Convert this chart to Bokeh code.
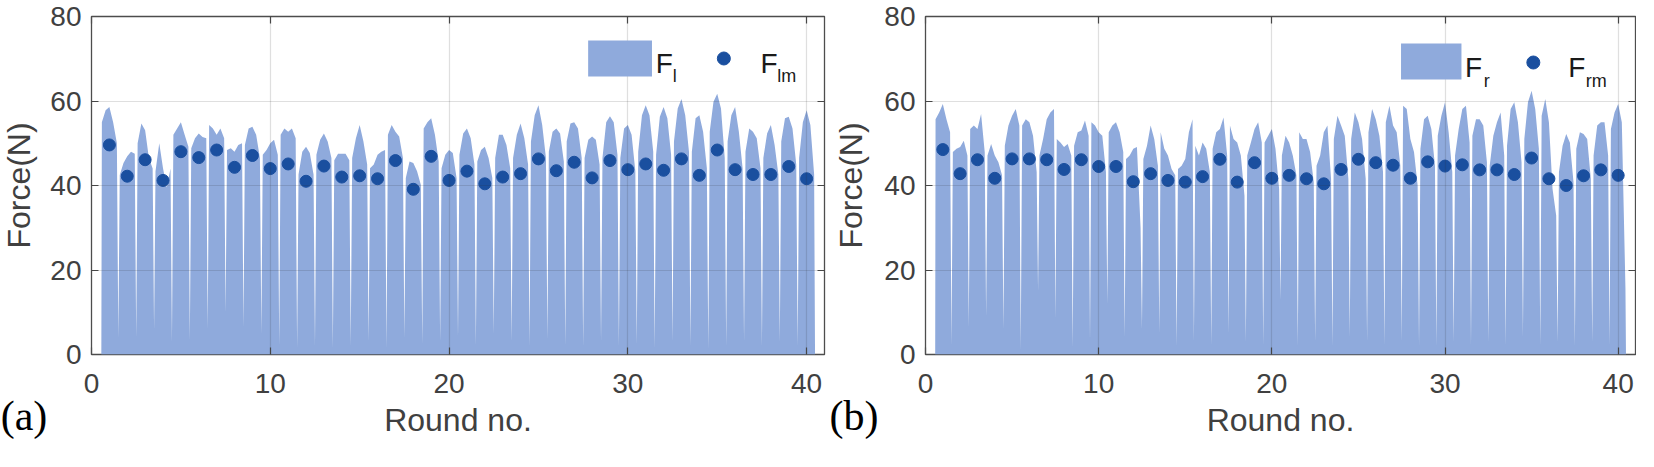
from bokeh.plotting import figure
from bokeh.models import Range1d, FixedTicker, LinearAxis, Label, BoxAnnotation
from bokeh.layouts import row
from bokeh.embed import file_html
from bokeh.resources import INLINE
import math

# ---------------- data ----------------
rounds = list(range(1, 41))
x_ticks = [0, 10, 20, 30, 40]
y_ticks = [0, 20, 40, 60, 80]

# panel (a): left foot force, per-round mean and envelope of the force trace
fl_mean = [49.6, 42.2, 46.1, 41.2, 48.0, 46.6, 48.4, 44.3, 47.1, 44.0,
           45.1, 41.0, 44.6, 42.0, 42.3, 41.6, 45.9, 39.1, 46.9, 41.2,
           43.4, 40.4, 42.0, 42.8, 46.3, 43.5, 45.5, 41.8, 45.9, 43.75,
           45.1, 43.6, 46.3, 42.4, 48.4, 43.75, 42.6, 42.6, 44.5, 41.6]
fl_left = [55, 42.5, 50, 43.4, 52, 48.8, 54.3, 48.4, 49.6, 47.3,
           52, 42.6, 47.3, 46, 46.5, 44.1, 52, 41.8, 53.5, 44.1,
           47.3, 45.7, 46.5, 46.5, 50.4, 48, 50.4, 46.5, 46.5, 46.5,
           48, 47.3, 50.4, 48, 52.7, 50.4, 48, 46.5, 50.4, 46.5]
fl_rise = [57.8, 45.3, 54.7, 50, 53.5, 51.2, 53.5, 48.8, 53.5, 48.4,
           53.5, 48, 50.8, 47.5, 51.2, 45, 54.3, 45.7, 55, 47.3,
           52.3, 48.4, 52, 52, 56.6, 52.7, 54.7, 50.8, 55, 53.5,
           56.6, 56.3, 58.2, 55.9, 59.8, 56.6, 53.5, 52.3, 55.9, 55]
fl_mid = [58.6, 46.9, 53.1, 44.1, 55, 52.3, 52, 48, 53.9, 50,
          52.7, 49.2, 52.3, 47.5, 54.3, 47.3, 52.7, 45.3, 55.9, 48.4,
          53.5, 49.2, 52, 54.7, 59, 53.5, 55, 51.6, 56.4, 54.3,
          59, 58.6, 60.5, 56.6, 61.7, 58.6, 52.7, 54.3, 56.3, 57.8]
fl_fall = [55, 48, 46.5, 39.5, 52, 51.5, 53.5, 49.6, 52, 50.8,
           53.5, 47.7, 50.4, 47.5, 50.4, 48, 51.6, 43.4, 52, 47.7,
           51.2, 46.5, 49.6, 51.2, 54.3, 52.3, 53.5, 50.8, 55, 52,
           56.6, 55.9, 56.6, 52.7, 58.2, 52.7, 51.2, 49.6, 53.5, 54.3]
fl_right = [50, 47.5, 44, 44, 49.2, 51.2, 51.2, 50, 46.5, 47.3,
            51.2, 42.6, 46.5, 46, 45, 48.4, 46.5, 40.2, 45.7, 41.8,
            45, 41.8, 44.1, 45, 46.5, 45.7, 46.5, 45, 47.3, 43.4,
            48, 47.3, 48, 44.1, 46.5, 44.1, 44.1, 42.6, 45, 42.6]
fl_gap = [4, 4, 6, 3, 3.5, 6, 10, 6.5, 5, 2, 1.5, 2, 1.5,
          2, 3, 1.5, 4, 2.5, 3, 4, 2, 5, 3, 2, 3.5, 2, 2,
          3, 2, 2.5, 1.5, 3, 2, 1.5, 2, 3, 2, 3, 2]
fl_start, fl_end = 0.55, 40.47

# panel (b): right foot force
fr_mean = [48.5, 42.8, 46.1, 41.7, 46.3, 46.3, 46.1, 43.8, 46.1, 44.5,
           44.5, 40.9, 42.8, 41.2, 40.8, 42.1, 46.2, 40.8, 45.4, 41.7,
           42.4, 41.6, 40.4, 43.8, 46.2, 45.4, 44.8, 41.7, 45.6, 44.6,
           44.9, 43.7, 43.7, 42.6, 46.5, 41.6, 40.0, 42.3, 43.7, 42.4]
fr_left = [55.7, 47.9, 53.4, 47.1, 49.4, 54.2, 47.1, 51, 49.4, 55,
           52.6, 46.3, 46.3, 52.6, 43.9, 49.4, 48.7, 54.2, 47.1, 50.2,
           47.1, 52.6, 44.7, 51, 51, 52.6, 55, 58.9, 48.7, 51.8,
           47.1, 51.8, 44.7, 49.4, 51, 56.5, 43.2, 48.7, 47.1, 53.4]
fr_rise = [57.3, 48.7, 54.2, 49.8, 54.2, 55.7, 51, 50.2, 52.6, 54.2,
           54.2, 47.1, 49.4, 48.7, 44.7, 47.1, 52.6, 51, 50.2, 51.8,
           51.8, 51, 47.1, 56.5, 57.3, 58.1, 58.9, 58.1, 55.7, 56.5,
           53.4, 55.7, 51.8, 58.1, 59.7, 60.5, 49.4, 52.6, 54.2, 57.3]
fr_mid = [59.3, 49.1, 53.4, 47.1, 56.5, 55, 55.7, 49.1, 53, 52.6,
          55, 48.7, 54.2, 47.1, 46.3, 50.2, 53.4, 50.2, 53.4, 53.4,
          50.2, 51, 52.6, 54.2, 55, 55.7, 54.2, 51, 56.5, 59.7,
          58.1, 55.7, 55, 59.7, 62.4, 55, 52.2, 52.2, 55, 59.3]
fr_fall = [55.7, 50.6, 56.9, 45.5, 58.1, 51.8, 57.3, 49.8, 55.4, 51.8,
           52.6, 49.1, 51, 43.9, 52.6, 48.7, 56.1, 47.1, 55, 48.7,
           47.1, 47.9, 54.2, 51.8, 51, 51.8, 52.6, 47.9, 53.4, 52.6,
           58.9, 54.2, 57.3, 55, 58.1, 39.2, 50.2, 51, 55, 55]
fr_right = [52.6, 47.1, 47.9, 42.4, 54.2, 43.2, 58.1, 47.1, 51.8, 43.2,
            47.9, 30, 44.7, 42.4, 55.7, 43.2, 47.1, 37.6, 50.2, 39.2,
            42.4, 40.8, 41.6, 41.6, 41.6, 43.2, 44.7, 40, 44.7, 43.2,
            50.2, 45.5, 47.1, 45.5, 48.7, 32.9, 40.8, 41.6, 47.1, 15.6]
fr_gap = [2.2, 6.5, 9, 6, 1, 15, 8.5, 1.5, 3, 12, 4, 6, 5,
          2, 3, 2, 5, 3, 2, 13, 2, 3, 2, 4, 3, 2, 3, 2,
          2, 3, 2, 3, 2, 4, 2, 3, 2, 3, 2]
fr_start, fr_end = 0.56, 40.45

# ---------------- styles / layout ----------------
AREA = "#8faadc"
DOT = "#1a4f9f"
AXC = "#4d4d4d"
TXT = "#404040"
SANS = "Liberation Sans"
SERIF = "Liberation Serif"
OFFS = [-0.42, -0.21, 0.0, 0.21, 0.42]   # envelope sample positions within a round
GAP_POS = 0.5
TOTAL_W, H = 1636, 442
TOP, BOTTOM = 16, H - 354


def envelope(start, end, parts, gaps):
    xs, ys = [start], [0.0]
    for i, k in enumerate(rounds):
        for off, arr in zip(OFFS, parts):
            xs.append(k + off)
            ys.append(arr[i])
        if i < len(gaps):
            xs.append(k + GAP_POS)
            ys.append(gaps[i])
    xs.append(end)
    ys.append(0.0)
    return xs, ys


def hidden_axis(ticks):
    return LinearAxis(ticker=FixedTicker(ticks=ticks), axis_line_color=None,
                      major_tick_in=7, major_tick_out=0, minor_tick_line_color=None,
                      major_label_text_font_size="0px", major_label_standoff=0,
                      major_label_overrides={t: "" for t in ticks},
                      major_tick_line_color=AXC, major_tick_line_width=1.2)


def make_panel(width, bl, br, start, end, parts, gaps, mean, leg):
    p = figure(width=width, height=H, x_range=Range1d(0, 41), y_range=Range1d(0, 80),
               output_backend="svg", toolbar_location=None,
               min_border_left=bl, min_border_right=br,
               min_border_top=TOP, min_border_bottom=BOTTOM,
               background_fill_color="white", border_fill_color="white")
    xs, ys = envelope(start, end, parts, gaps)
    p.varea(x=xs, y1=[0.0] * len(xs), y2=ys, fill_color=AREA, fill_alpha=1.0)
    p.scatter(x=rounds, y=mean, size=12, fill_color=DOT, line_color=DOT)

    p.xaxis.ticker = FixedTicker(ticks=x_ticks)
    p.yaxis.ticker = FixedTicker(ticks=y_ticks)
    for ax in (p.xaxis[0], p.yaxis[0]):
        ax.axis_line_color = None
        ax.major_tick_in = 7
        ax.major_tick_out = 0
        ax.minor_tick_line_color = None
        ax.major_tick_line_color = AXC
        ax.major_tick_line_width = 1.2
        ax.major_label_text_font = SANS
        ax.major_label_text_font_size = "28px"
        ax.major_label_text_color = TXT
    p.xaxis.major_label_standoff = 19
    p.yaxis.major_label_standoff = 10
    p.xaxis.axis_label = "Round no."
    p.xaxis.axis_label_text_font = SANS
    p.xaxis.axis_label_text_font_size = "32px"
    p.xaxis.axis_label_text_font_style = "normal"
    p.xaxis.axis_label_text_color = TXT
    p.xaxis.axis_label_standoff = 6

    p.add_layout(hidden_axis(x_ticks), "above")
    p.add_layout(hidden_axis(y_ticks), "right")

    p.xgrid.ticker = FixedTicker(ticks=x_ticks)
    p.ygrid.ticker = FixedTicker(ticks=y_ticks)
    p.grid.grid_line_color = "#262626"
    p.grid.grid_line_alpha = 0.15
    p.grid.grid_line_width = 1.2
    p.xgrid.level = "guide"
    p.ygrid.level = "guide"
    p.outline_line_color = AXC
    p.outline_line_width = 1.3

    # legend (placed inside the plot frame)
    (sl, sr, sb, st), (f1x, fy), (s1x, sy, s1), (dx, dy), f2x, s2x, s2 = leg
    p.add_layout(BoxAnnotation(left=sl, right=sr, bottom=sb, top=st,
                               fill_color=AREA, fill_alpha=1.0, line_color=None))
    p.scatter(x=[dx], y=[dy], size=13, fill_color=DOT, line_color=DOT)
    for tx, ty, t, fs in ((f1x, fy, "F", "28px"), (s1x, sy, s1, "18px"),
                          (f2x, fy, "F", "28px"), (s2x, sy, s2, "18px")):
        p.add_layout(Label(x=tx, y=ty, text=t, text_align="left",
                           text_baseline="alphabetic", text_font=SANS,
                           text_font_size=fs, text_color="#1a1a1a"))
    return p


leg_a = ((27.78, 31.35, 65.80, 74.32), (31.56, 68.88), (32.51, 65.80, "l"),
         (35.37, 70.06), 37.42, 38.36, "lm")
leg_b = ((27.46, 30.95, 65.09, 73.61), (31.16, 67.93), (32.23, 64.85, "r"),
         (35.10, 69.11), 37.11, 38.13, "rm")

W_YA, W_PA, W_YB = 47, 779, 55
W_PB = TOTAL_W - W_YA - W_PA - W_YB
pa = make_panel(W_PA, 42, 2, fl_start, fl_end,
                (fl_left, fl_rise, fl_mid, fl_fall, fl_right), fl_gap, fl_mean, leg_a)
pb = make_panel(W_PB, 42, 1, fr_start, fr_end,
                (fr_left, fr_rise, fr_mid, fr_fall, fr_right), fr_gap, fr_mean, leg_b)


def side_strip(width, center_x, tag):
    # narrow plot beside a panel: its frame lines up with the panel frame,
    # it carries the y title inside and the panel tag as its x-axis title
    s = figure(width=width, height=H, x_range=Range1d(0, width), y_range=Range1d(0, 80),
               output_backend="svg", toolbar_location=None, y_axis_location=None,
               min_border_left=0, min_border_right=0,
               min_border_top=TOP, min_border_bottom=BOTTOM,
               background_fill_color="white", border_fill_color="white")
    s.grid.visible = False
    s.outline_line_color = None
    ax = s.xaxis[0]
    ax.ticker = FixedTicker(ticks=[])
    ax.axis_line_color = None
    ax.major_tick_line_color = None
    ax.minor_tick_line_color = None
    ax.major_tick_in = 0
    ax.major_tick_out = 0
    ax.major_label_text_font_size = "0px"
    ax.major_label_standoff = 0
    ax.axis_label = tag
    ax.axis_label_text_font = SERIF
    ax.axis_label_text_font_size = "42px"
    ax.axis_label_text_font_style = "normal"
    ax.axis_label_text_color = "black"
    ax.axis_label_standoff = 38
    s.add_layout(Label(x=center_x, y=40, text="Force(N)", angle=math.pi / 2,
                       text_align="center", text_baseline="middle",
                       text_font=SANS, text_font_size="32px", text_color=TXT))
    return s


ya = side_strip(W_YA, 18, "(a)")
yb = side_strip(W_YB, 24, "(b)")

layout = row(ya, pa, yb, pb)
open("out.html", "w").write(file_html(layout, INLINE))
